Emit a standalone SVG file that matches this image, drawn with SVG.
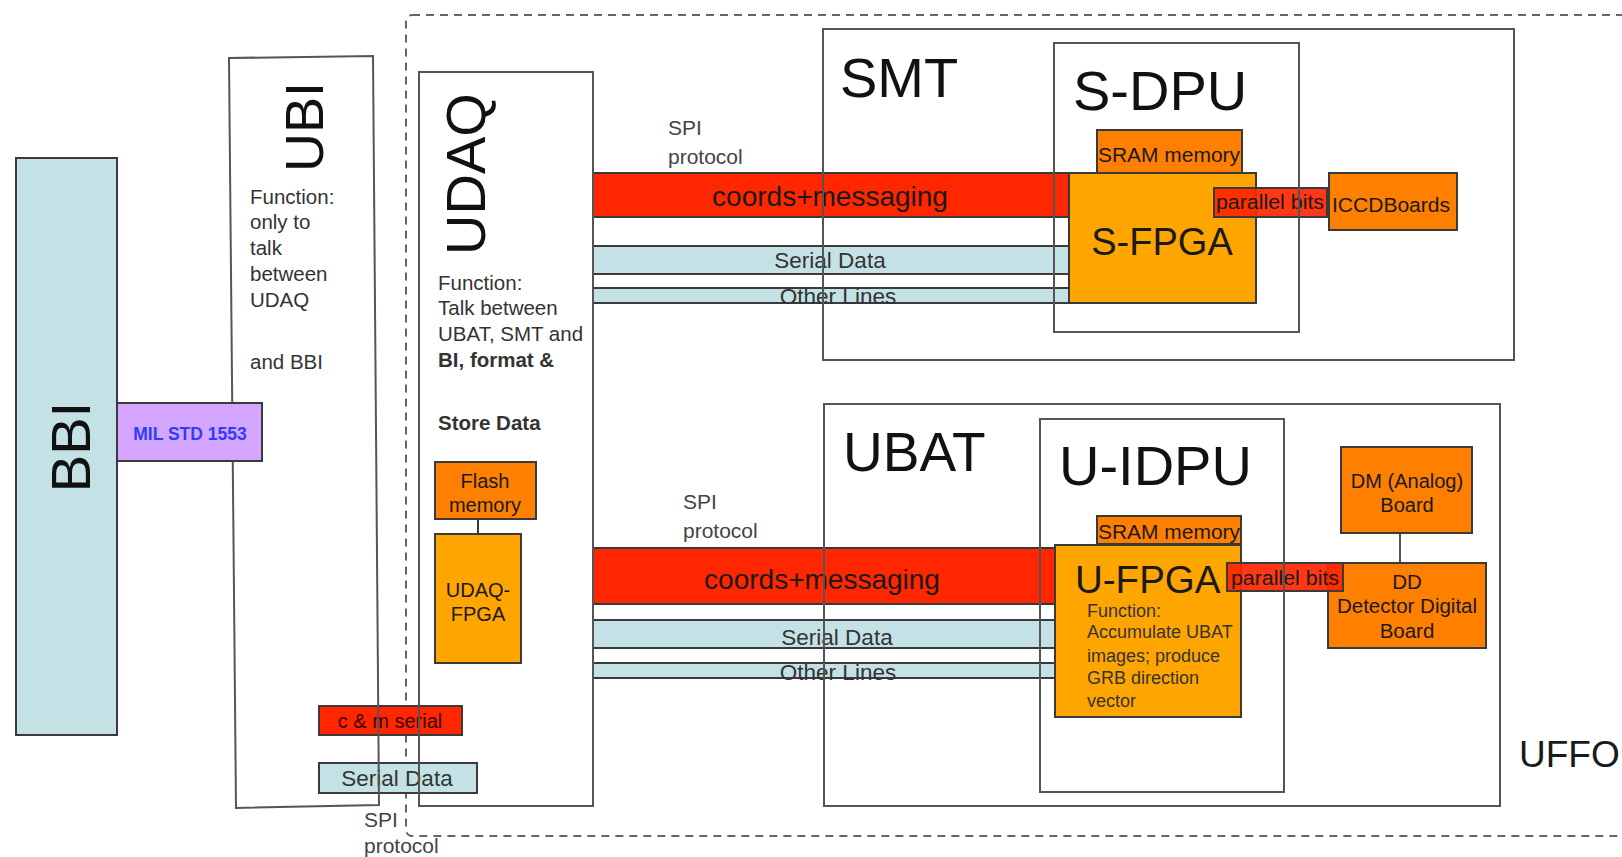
<svg xmlns="http://www.w3.org/2000/svg" width="1622" height="857" viewBox="0 0 1622 857">
<style>
text{font-family:"Liberation Sans",Arial,sans-serif;fill:#1a1a1a}
.box{stroke:#3a3a3a;stroke-width:2}
.cont{fill:none;stroke:#555;stroke-width:2}
.red{fill:#ff2600}
.org{fill:#ff7f00}
.fpga{fill:#ffa500}
.blue{fill:#c4e2e6}
.big{font-size:56px;fill:#111}
.fn{font-size:20.5px;fill:#333}
.lbl{font-size:20.5px;text-anchor:middle}
.gray{font-size:21px;fill:#444}
.mid{text-anchor:middle}
</style>
<rect width="1622" height="857" fill="#fff"/>
<g id="uffo">
<rect x="406" y="15" width="1300" height="821" rx="6" fill="none" stroke="#666" stroke-width="2" stroke-dasharray="8,6"/>
<text x="1519" y="767" style="font-size:37px">UFFO</text>
</g>
<g id="smt-bars">
<g id="s-coords"><rect class="box red" x="593" y="173" width="476" height="44"/><text class="mid" x="830" y="206" style="font-size:28px">coords+messaging</text></g>
<g id="s-serial"><rect class="box blue" x="593" y="246" width="476" height="28"/><text class="mid" x="830" y="268" style="font-size:22.5px;fill:#333">Serial Data</text></g>
<g id="s-other"><rect class="box blue" x="593" y="288" width="476" height="15"/><text class="mid" x="838" y="304" style="font-size:22.5px;fill:#333">Other Lines</text></g>
</g>
<g id="ubat-bars">
<g id="u-coords"><rect class="box red" x="593" y="548" width="462" height="56"/><text class="mid" x="822" y="589" style="font-size:28px">coords+messaging</text></g>
<g id="u-serial"><rect class="box blue" x="593" y="620" width="462" height="28"/><text class="mid" x="837" y="645" style="font-size:22.5px;fill:#333">Serial Data</text></g>
<g id="u-other"><rect class="box blue" x="593" y="663" width="462" height="15"/><text class="mid" x="838" y="680" style="font-size:22.5px;fill:#333">Other Lines</text></g>
</g>
<g id="cm-serial"><rect class="box red" x="319" y="706" width="143" height="29"/><text class="mid" x="390" y="728" style="font-size:20px;fill:#3a0000">c &amp; m serial</text></g>
<g id="serial-bottom"><rect class="box blue" x="319" y="763" width="158" height="30"/><text class="mid" x="397" y="786" style="font-size:22.5px;fill:#333">Serial Data</text></g>
<g id="ubi">
<polygon class="cont" points="229,58 373,56 379,805 236,808"/>
<text class="big mid" transform="translate(323,127) rotate(-90)" style="font-size:54px">UBI</text>
<text class="fn" x="250" y="204">Function:</text>
<text class="fn" x="250" y="229">only to</text>
<text class="fn" x="250" y="255">talk</text>
<text class="fn" x="250" y="281">between</text>
<text class="fn" x="250" y="307">UDAQ</text>
<text class="fn" x="250" y="369">and BBI</text>
</g>
<g id="udaq">
<rect class="cont" x="419" y="72" width="174" height="734"/>
<text class="big mid" transform="translate(485,174) rotate(-90)">UDAQ</text>
<text class="fn" x="438" y="290">Function:</text>
<text class="fn" x="438" y="315">Talk between</text>
<text class="fn" x="438" y="341">UBAT, SMT and</text>
<text class="fn" x="438" y="367" font-weight="bold">BI, format &amp;</text>
<text class="fn" x="438" y="430" font-weight="bold">Store Data</text>
</g>
<g id="bbi">
<rect class="box blue" x="16" y="158" width="101" height="577"/>
<text class="big mid" transform="translate(90,447) rotate(-90)">BBI</text>
</g>
<g id="mil">
<rect class="box" x="117" y="403" width="145" height="58" fill="#d4a6ff"/>
<text class="mid" x="190" y="440" font-weight="bold" style="font-size:17.5px;fill:#2e3cff">MIL STD 1553</text>
</g>
<g id="connectors">
<line x1="478" y1="519" x2="478" y2="534" stroke="#3a3a3a" stroke-width="2"/>
<line x1="1400" y1="533" x2="1400" y2="563" stroke="#555" stroke-width="2"/>
</g>
<g id="flash">
<rect class="box org" x="435" y="462" width="101" height="57"/>
<text class="lbl" x="485" y="488" style="font-size:20px">Flash</text>
<text class="lbl" x="485" y="512" style="font-size:20px">memory</text>
</g>
<g id="udaq-fpga">
<rect class="box fpga" x="435" y="534" width="86" height="129"/>
<text class="lbl" x="478" y="597" style="font-size:20px">UDAQ-</text>
<text class="lbl" x="478" y="621" style="font-size:20px">FPGA</text>
</g>
<g id="s-sram">
<rect class="box org" x="1097" y="130" width="145" height="43"/>
<text class="lbl" x="1169" y="162" textLength="142" lengthAdjust="spacingAndGlyphs">SRAM memory</text>
</g>
<g id="s-fpga">
<rect class="box fpga" x="1069" y="173" width="187" height="130"/>
<text class="mid" x="1162" y="255" style="font-size:38px">S-FPGA</text>
</g>
<g id="iccd">
<rect class="box org" x="1329" y="173" width="128" height="57"/>
<text class="lbl" x="1391" y="212" textLength="118" lengthAdjust="spacingAndGlyphs">ICCDBoards</text>
</g>
<g id="s-parallel">
<rect class="box red" x="1214" y="188" width="113" height="29" fill-opacity="0.92"/>
<text class="lbl" x="1270" y="209" textLength="108" lengthAdjust="spacingAndGlyphs">parallel bits</text>
</g>
<g id="u-sram">
<rect class="box org" x="1097" y="516" width="144" height="28"/>
<text class="lbl" x="1169" y="539" textLength="142" lengthAdjust="spacingAndGlyphs">SRAM memory</text>
</g>
<g id="u-fpga">
<rect class="box fpga" x="1055" y="545" width="186" height="172"/>
<text x="1075" y="593" style="font-size:38.5px">U-FPGA</text>
<text x="1087" y="617" style="font-size:18px;fill:#333">Function:</text>
<text x="1087" y="638" style="font-size:18px;fill:#333">Accumulate UBAT</text>
<text x="1087" y="662" style="font-size:18px;fill:#333">images; produce</text>
<text x="1087" y="684" style="font-size:18px;fill:#333">GRB direction</text>
<text x="1087" y="707" style="font-size:18px;fill:#333">vector</text>
</g>
<g id="dm">
<rect class="box org" x="1341" y="447" width="131" height="86"/>
<text class="lbl" x="1407" y="488" style="font-size:20px">DM (Analog)</text>
<text class="lbl" x="1407" y="512" style="font-size:20px">Board</text>
</g>
<g id="dd">
<rect class="box org" x="1328" y="563" width="158" height="85"/>
<text class="lbl" x="1407" y="589">DD</text>
<text class="lbl" x="1407" y="613">Detector Digital</text>
<text class="lbl" x="1407" y="638">Board</text>
</g>
<g id="u-parallel">
<rect class="box red" x="1227" y="563" width="116" height="28" fill-opacity="0.92"/>
<text class="lbl" x="1285" y="585" textLength="108" lengthAdjust="spacingAndGlyphs">parallel bits</text>
</g>
<g id="smt">
<rect class="cont" x="823" y="29" width="691" height="331"/>
<text class="big" x="840" y="97">SMT</text>
</g>
<g id="s-dpu">
<rect class="cont" x="1054" y="43" width="245" height="289"/>
<text class="big" x="1073" y="110">S-DPU</text>
</g>
<g id="ubat">
<rect class="cont" x="824" y="404" width="676" height="402"/>
<text class="big" x="843" y="471" style="font-size:55px">UBAT</text>
</g>
<g id="u-idpu">
<rect class="cont" x="1040" y="419" width="244" height="373"/>
<text class="big" x="1059" y="485">U-IDPU</text>
</g>
<g id="spi-labels">
<text class="gray" x="668" y="135">SPI</text>
<text class="gray" x="668" y="164">protocol</text>
<text class="gray" x="683" y="509">SPI</text>
<text class="gray" x="683" y="538">protocol</text>
<text class="gray" x="364" y="827">SPI</text>
<text class="gray" x="364" y="853">protocol</text>
</g>
</svg>
